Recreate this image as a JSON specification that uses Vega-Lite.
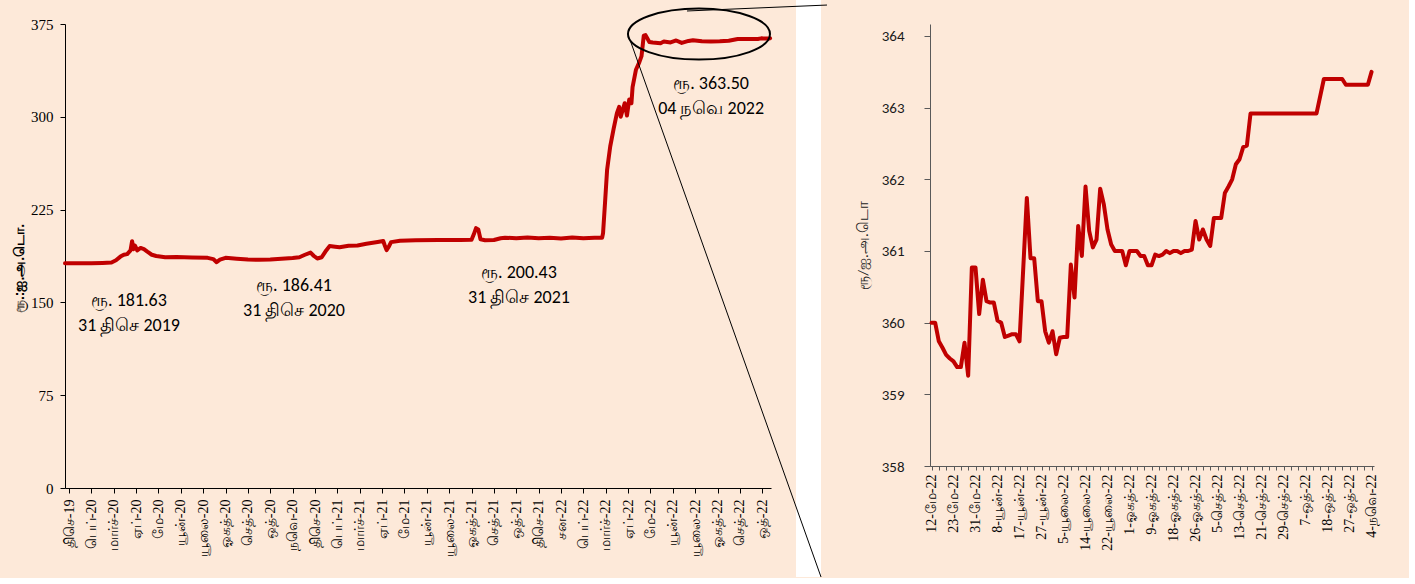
{
  "$schema": "https://vega.github.io/schema/vega-lite/v6.json",
  "background": "#FDE9D9",
  "padding": {"left": 12, "top": 0, "right": 30, "bottom": 0},
  "spacing": 159,
  "bounds": "flush",
  "config": {"view": {"stroke": null}, "axis": {"grid": false}},
  "datasets": {
    "left": [
      {"p": -0.18, "v": 181.6}, {"p": 0.5, "v": 181.7}, {"p": 1.0, "v": 181.6}, {"p": 1.5, "v": 181.9},
      {"p": 1.9, "v": 182.2}, {"p": 2.1, "v": 184}, {"p": 2.3, "v": 187}, {"p": 2.45, "v": 188.5},
      {"p": 2.6, "v": 189}, {"p": 2.75, "v": 192}, {"p": 2.82, "v": 199.5}, {"p": 2.88, "v": 193},
      {"p": 2.95, "v": 196}, {"p": 3.05, "v": 192}, {"p": 3.2, "v": 194}, {"p": 3.35, "v": 193},
      {"p": 3.5, "v": 191}, {"p": 3.7, "v": 188.5}, {"p": 3.9, "v": 187.5}, {"p": 4.3, "v": 186.5},
      {"p": 4.8, "v": 186.6}, {"p": 5.5, "v": 186.3}, {"p": 6.2, "v": 186.0}, {"p": 6.45, "v": 185.0},
      {"p": 6.6, "v": 182.5}, {"p": 6.75, "v": 184.5}, {"p": 7.0, "v": 186.0}, {"p": 7.5, "v": 185.3},
      {"p": 8.0, "v": 184.6}, {"p": 8.5, "v": 184.4}, {"p": 9.0, "v": 184.7}, {"p": 9.5, "v": 185.3},
      {"p": 10.0, "v": 185.8}, {"p": 10.3, "v": 186.5}, {"p": 10.55, "v": 188.5}, {"p": 10.8, "v": 190.3},
      {"p": 10.95, "v": 187.5}, {"p": 11.1, "v": 185.5}, {"p": 11.3, "v": 186.5}, {"p": 11.5, "v": 192},
      {"p": 11.65, "v": 195.5}, {"p": 11.9, "v": 195}, {"p": 12.1, "v": 194.6}, {"p": 12.5, "v": 195.8},
      {"p": 12.9, "v": 196}, {"p": 13.3, "v": 197.4}, {"p": 13.8, "v": 198.8}, {"p": 14.05, "v": 199.6},
      {"p": 14.12, "v": 196}, {"p": 14.2, "v": 192.3}, {"p": 14.3, "v": 195}, {"p": 14.4, "v": 198.7},
      {"p": 14.8, "v": 199.8}, {"p": 15.5, "v": 200.2}, {"p": 16.5, "v": 200.4}, {"p": 17.5, "v": 200.5},
      {"p": 18.0, "v": 200.6}, {"p": 18.1, "v": 205}, {"p": 18.2, "v": 210}, {"p": 18.3, "v": 209},
      {"p": 18.4, "v": 201}, {"p": 18.6, "v": 200.3}, {"p": 19.0, "v": 200.4}, {"p": 19.3, "v": 201.8},
      {"p": 19.5, "v": 202.3}, {"p": 20.0, "v": 201.8}, {"p": 20.5, "v": 202.4}, {"p": 21.0, "v": 201.9},
      {"p": 21.5, "v": 202.3}, {"p": 22.0, "v": 201.7}, {"p": 22.5, "v": 202.4}, {"p": 23.0, "v": 201.9},
      {"p": 23.5, "v": 202.2}, {"p": 23.84, "v": 202.3}, {"p": 23.88, "v": 206}, {"p": 23.97, "v": 231},
      {"p": 24.06, "v": 257}, {"p": 24.2, "v": 276}, {"p": 24.35, "v": 290}, {"p": 24.5, "v": 303},
      {"p": 24.6, "v": 308}, {"p": 24.67, "v": 300}, {"p": 24.85, "v": 311}, {"p": 24.95, "v": 301},
      {"p": 25.05, "v": 314}, {"p": 25.15, "v": 311}, {"p": 25.2, "v": 324}, {"p": 25.35, "v": 338},
      {"p": 25.5, "v": 344}, {"p": 25.6, "v": 349}, {"p": 25.7, "v": 365.5}, {"p": 25.78, "v": 366},
      {"p": 25.95, "v": 360.5}, {"p": 26.1, "v": 360}, {"p": 26.45, "v": 359.4}, {"p": 26.6, "v": 360.8},
      {"p": 26.9, "v": 360.1}, {"p": 27.15, "v": 361.7}, {"p": 27.4, "v": 359.7}, {"p": 27.7, "v": 361.3},
      {"p": 27.9, "v": 361.9}, {"p": 28.3, "v": 361.0}, {"p": 28.7, "v": 360.8}, {"p": 29.1, "v": 361.0},
      {"p": 29.5, "v": 361.5}, {"p": 29.9, "v": 362.9}, {"p": 30.8, "v": 362.9}, {"p": 30.95, "v": 363.4},
      {"p": 31.1, "v": 363.3}, {"p": 31.3, "v": 363.3}, {"p": 31.35, "v": 363.5}
    ],
    "notes": [
      {"p": 2.68, "v": 151.1, "label": ["ரூ. 181.63", "31 திசெ  2019"]},
      {"p": 10.06, "v": 163.3, "label": ["ரூ. 186.41", "31 திசெ 2020"]},
      {"p": 20.12, "v": 173.8, "label": ["ரூ. 200.43", "31 திசெ 2021"]},
      {"p": 28.71, "v": 326.6, "label": ["ரூ. 363.50", "04 நவெ   2022"]}
    ],
    "ring": [{"p": 28.17, "v": 366.9}],
    "right": [
      {"i": 0, "v": 360.0}, {"i": 1, "v": 360.0}, {"i": 2, "v": 359.74}, {"i": 3, "v": 359.65},
      {"i": 4, "v": 359.55}, {"i": 5, "v": 359.5}, {"i": 6, "v": 359.46}, {"i": 7, "v": 359.38},
      {"i": 8, "v": 359.38}, {"i": 9, "v": 359.72}, {"i": 10, "v": 359.26}, {"i": 11, "v": 360.77},
      {"i": 12, "v": 360.77}, {"i": 13, "v": 360.12}, {"i": 14, "v": 360.6}, {"i": 15, "v": 360.3},
      {"i": 16, "v": 360.28}, {"i": 17, "v": 360.28}, {"i": 18, "v": 360.03}, {"i": 19, "v": 360.0},
      {"i": 20, "v": 359.8}, {"i": 21, "v": 359.82}, {"i": 22, "v": 359.84}, {"i": 23, "v": 359.84},
      {"i": 24, "v": 359.74}, {"i": 26, "v": 361.74}, {"i": 27, "v": 360.9}, {"i": 28, "v": 360.9},
      {"i": 29, "v": 360.3}, {"i": 30, "v": 360.3}, {"i": 31, "v": 359.88}, {"i": 32, "v": 359.72},
      {"i": 33, "v": 359.88}, {"i": 34, "v": 359.56}, {"i": 35, "v": 359.79}, {"i": 36, "v": 359.8},
      {"i": 37, "v": 359.8}, {"i": 38, "v": 360.81}, {"i": 39, "v": 360.35}, {"i": 40, "v": 361.35},
      {"i": 41, "v": 360.93}, {"i": 42, "v": 361.9}, {"i": 43, "v": 361.28}, {"i": 44, "v": 361.05},
      {"i": 45, "v": 361.16}, {"i": 46, "v": 361.87}, {"i": 47, "v": 361.65}, {"i": 48, "v": 361.3},
      {"i": 49, "v": 361.09}, {"i": 50, "v": 361.0}, {"i": 51, "v": 361.0}, {"i": 52, "v": 361.0},
      {"i": 53, "v": 360.8}, {"i": 54, "v": 361.0}, {"i": 55, "v": 361.0}, {"i": 56, "v": 361.0},
      {"i": 57, "v": 360.93}, {"i": 58, "v": 360.93}, {"i": 59, "v": 360.8}, {"i": 60, "v": 360.8},
      {"i": 61, "v": 360.95}, {"i": 62, "v": 360.93}, {"i": 63, "v": 360.95}, {"i": 64, "v": 361.0},
      {"i": 65, "v": 360.97}, {"i": 66, "v": 361.0}, {"i": 67, "v": 361.0}, {"i": 68, "v": 360.97},
      {"i": 69, "v": 361.0}, {"i": 70, "v": 361.0}, {"i": 71, "v": 361.02}, {"i": 72, "v": 361.42},
      {"i": 73, "v": 361.16}, {"i": 74, "v": 361.3}, {"i": 75, "v": 361.16}, {"i": 76, "v": 361.07},
      {"i": 77, "v": 361.46}, {"i": 78, "v": 361.46}, {"i": 79, "v": 361.46}, {"i": 80, "v": 361.81},
      {"i": 81, "v": 361.9}, {"i": 82, "v": 362.0}, {"i": 83, "v": 362.21}, {"i": 84, "v": 362.28},
      {"i": 85, "v": 362.45}, {"i": 86, "v": 362.47}, {"i": 87, "v": 362.92}, {"i": 88, "v": 362.92},
      {"i": 89, "v": 362.92}, {"i": 90, "v": 362.92}, {"i": 91, "v": 362.92}, {"i": 92, "v": 362.92},
      {"i": 93, "v": 362.92}, {"i": 94, "v": 362.92}, {"i": 95, "v": 362.92}, {"i": 96, "v": 362.92},
      {"i": 97, "v": 362.92}, {"i": 98, "v": 362.92}, {"i": 99, "v": 362.92}, {"i": 100, "v": 362.92},
      {"i": 101, "v": 362.92}, {"i": 102, "v": 362.92}, {"i": 103, "v": 362.92}, {"i": 104, "v": 362.92},
      {"i": 105, "v": 362.92}, {"i": 107, "v": 363.4}, {"i": 108, "v": 363.4}, {"i": 109, "v": 363.4},
      {"i": 110, "v": 363.4}, {"i": 111, "v": 363.4}, {"i": 112, "v": 363.4}, {"i": 113, "v": 363.32},
      {"i": 114, "v": 363.32}, {"i": 115, "v": 363.32}, {"i": 116, "v": 363.32}, {"i": 117, "v": 363.32},
      {"i": 118, "v": 363.32}, {"i": 119, "v": 363.32}, {"i": 120, "v": 363.5}
    ],
    "gap": [{"x1": -36.95, "x2": -30.13, "y1": 364.502, "y2": 356.451}],
    "links": [
      {"x1": -66.68, "x2": -28.5, "y1": 364.349, "y2": 364.432},
      {"x1": -82.03, "x2": -30.13, "y1": 363.92, "y2": 356.451}
    ]
  },
  "hconcat": [
    {
      "width": 706,
      "height": 464,
      "layer": [
        {
          "data": {"name": "left"},
          "mark": {"type": "line", "color": "#C00000", "strokeWidth": 4, "strokeJoin": "round", "strokeCap": "round"},
          "encoding": {
            "x": {
              "field": "p", "type": "quantitative",
              "scale": {"domain": [-0.18, 31.39], "nice": false, "zero": false},
              "axis": {
                "title": null,
                "values": [0,1,2,3,4,5,6,7,8,9,10,11,12,13,14,15,16,17,18,19,20,21,22,23,24,25,26,27,28,29,30,31],
                "tickCount": 200,
                "labelExpr": "['திசெ-19','பெப்-20','மார்ச்-20','ஏப்-20','மே-20','யூன்-20','யூலை-20','ஓகத்-20','செத்-20','ஒத்-20','நவெ-20','திசெ-20','பெப்-21','மார்ச்-21','ஏப்-21','மே-21','யூன்-21','யூலை-21','ஓகத்-21','செத்-21','ஒத்-21','திசெ-21','சன-22','பெப்-22','மார்ச்-22','ஏப்-22','மே-22','யூன்-22','யூலை-22','ஓகத்-22','செத்-22','ஒத்-22'][datum.value]",
                "labelAngle": -90,
                "labelFont": "Liberation Serif",
                "labelFontSize": 14,
                "labelColor": "#000000",
                "labelPadding": 6,
                "labelOverlap": false,
                "labelFlush": false,
                "labelBound": false,
                "domainColor": "#000000",
                "tickColor": "#000000",
                "tickSize": 5
              }
            },
            "y": {
              "field": "v", "type": "quantitative",
              "scale": {"domain": [0, 375], "nice": false, "zero": true},
              "axis": {
                "title": "ரூ.:ஐ.அ.டொ.",
                "titleFont": "Liberation Sans",
                "titleFontSize": 14,
                "titleFontWeight": "bold",
                "titleColor": "#000000",
                "titlePadding": 4,
                "titleY": 244,
                "values": [0, 75, 150, 225, 300, 375],
                "tickCount": 50,
                "labelFont": "Liberation Serif",
                "labelFontSize": 15,
                "labelColor": "#000000",
                "labelPadding": 7,
                "domainColor": "#000000",
                "tickColor": "#000000",
                "tickSize": 5
              }
            }
          }
        },
        {
          "data": {"name": "notes"},
          "mark": {"type": "text", "font": "Carlito, Lato", "fontSize": 18, "lineHeight": 25, "align": "center", "baseline": "middle", "color": "#000000"},
          "encoding": {
            "x": {"field": "p", "type": "quantitative"},
            "y": {"field": "v", "type": "quantitative"},
            "text": {"field": "label"}
          }
        },
        {
          "data": {"name": "ring"},
          "mark": {"type": "point", "shape": "M -1 0 A 1 0.36 0 1 0 1 0 A 1 0.36 0 1 0 -1 0", "size": 20164, "filled": false, "stroke": "#000000", "strokeWidth": 2, "opacity": 1},
          "encoding": {
            "x": {"field": "p", "type": "quantitative"},
            "y": {"field": "v", "type": "quantitative"}
          }
        }
      ]
    },
    {
      "width": 444,
      "height": 442,
      "layer": [
        {
          "data": {"name": "right"},
          "mark": {"type": "line", "color": "#C00000", "strokeWidth": 4, "strokeJoin": "round", "strokeCap": "round"},
          "encoding": {
            "x": {
              "field": "i", "type": "quantitative",
              "scale": {"domain": [-0.41, 120.67], "nice": false, "zero": false},
              "axis": {
                "title": null,
                "values": [0,2,4,6,8,10,12,14,16,18,20,22,24,26,28,30,32,34,36,38,40,42,44,46,48,50,52,54,56,58,60,62,64,66,68,70,72,74,76,78,80,82,84,86,88,90,92,94,96,98,100,102,104,106,108,110,112,114,116,118,120],
                "tickCount": 200,
                "labelExpr": "datum.value % 6 == 0 ? ['12-மே-22','23-மே-22','31-மே-22','8-யூன்-22','17-யூன்-22','27-யூன்-22','5-யூலை-22','14-யூலை-22','22-யூலை-22','1-ஓகத்-22','9-ஓகத்-22','18-ஓகத்-22','26-ஓகத்-22','5-செத்-22','13-செத்-22','21-செத்-22','29-செத்-22','7-ஒத்-22','18-ஒத்-22','27-ஒத்-22','4-நவெ-22'][datum.value / 6] : ''",
                "labelAngle": -90,
                "labelFont": "Liberation Serif",
                "labelFontSize": 14,
                "labelColor": "#000000",
                "labelPadding": 4,
                "labelOverlap": false,
                "labelFlush": false,
                "labelBound": false,
                "domainColor": "#595959",
                "tickColor": "#595959",
                "tickSize": 4
              }
            },
            "y": {
              "field": "v", "type": "quantitative",
              "scale": {"domain": [358, 364.1674], "nice": false, "zero": false},
              "axis": {
                "title": "ரூ/ஐ.அ.டொ",
                "titleFont": "Carlito, Lato",
                "titleFontSize": 15,
                "titleFontWeight": "normal",
                "titleColor": "#222222",
                "titlePadding": 11,
                "values": [358, 359, 360, 361, 362, 363, 364],
                "tickCount": 50,
                "format": "d",
                "labelFont": "Carlito, Lato",
                "labelFontSize": 15,
                "labelColor": "#1a1a1a",
                "labelPadding": 20,
                "domainColor": "#595959",
                "tickColor": "#595959",
                "tickSize": 6
              }
            }
          }
        },
        {
          "data": {"name": "gap"},
          "mark": {"type": "rect", "color": "#FFFFFF", "opacity": 1},
          "encoding": {
            "x": {"field": "x1", "type": "quantitative"},
            "x2": {"field": "x2"},
            "y": {"field": "y1", "type": "quantitative"},
            "y2": {"field": "y2"}
          }
        },
        {
          "data": {"name": "links"},
          "mark": {"type": "rule", "color": "#000000", "strokeWidth": 1},
          "encoding": {
            "x": {"field": "x1", "type": "quantitative"},
            "x2": {"field": "x2"},
            "y": {"field": "y1", "type": "quantitative"},
            "y2": {"field": "y2"}
          }
        }
      ]
    }
  ]
}
